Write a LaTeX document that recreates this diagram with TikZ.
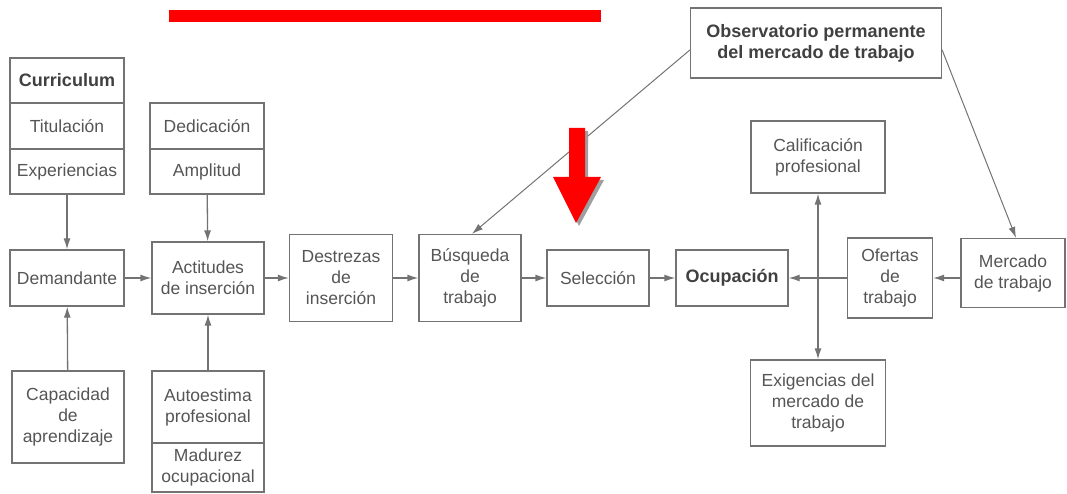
\documentclass[tikz,border=0pt]{standalone}
\usepackage{fontspec}
\setmainfont{Liberation Sans}
\usetikzlibrary{arrows.meta}
\definecolor{linea}{RGB}{115,115,115}
\definecolor{texto}{RGB}{85,85,85}
\definecolor{rojo}{RGB}{255,0,0}

\begin{document}
\begin{tikzpicture}[x=1pt,y=-1pt,
		caja/.style={draw=linea,line width=1.3pt,text=texto,align=center,inner sep=0pt,font=\fontsize{17.5}{21}\selectfont},
		negrita/.style={font=\fontsize{18}{21}\selectfont\bfseries,text=black!75},
		flecha/.style={draw=linea,line width=1.3pt,-{Latex[length=11pt,width=7pt]}},
		flechas/.style={draw=linea,line width=1.3pt,{Latex[length=11pt,width=7pt]}-{Latex[length=11pt,width=7pt]}}]
	\useasboundingbox (0,0) rectangle (1067,494);
	\fill [rojo] (169,10) rectangle (601,22);
	\node [caja,negrita,minimum width=114,minimum height=45] (cur) at (67,80.5) {Curriculum};
	\node [caja,minimum width=114,minimum height=46] (tit) at (67,126) {Titulación};
	\node [caja,minimum width=114,minimum height=45] (exp) at (67,171.5) {Experiencias};
	\node [caja,minimum width=114,minimum height=46] (ded) at (207,126) {Dedicación};
	\node [caja,minimum width=114,minimum height=45] (amp) at (207,171.5) {Amplitud};
	\node [caja,minimum width=114,minimum height=56] (dem) at (67,278) {Demandante};
	\node [caja,minimum width=112,minimum height=72] (act) at (208,278) {Actitudes\\de inserción};
	\node [caja,minimum width=103,minimum height=87] (des) at (341,278) {Destrezas\\de\\inserción};
	\node [caja,minimum width=102,minimum height=87] (bus) at (470,278) {Búsqueda\\de\\trabajo};
	\node [caja,minimum width=102,minimum height=56] (sel) at (598,278) {Selección};
	\node [caja,negrita,minimum width=112,minimum height=56] (ocu) at (732,278) {Ocupación};
	\node [caja,negrita,minimum width=251,minimum height=70] (obs) at (816,43) {Observatorio permanente\\del mercado de trabajo};
	\node [caja,minimum width=134,minimum height=72] (cal) at (818,157) {Calificación\\profesional};
	\node [caja,minimum width=135,minimum height=86] (exi) at (818,403) {Exigencias del\\mercado de\\trabajo};
	\node [caja,minimum width=85,minimum height=80] (ofe) at (890,278) {Ofertas\\de\\trabajo};
	\node [caja,minimum width=104,minimum height=69] (mer) at (1013,273) {Mercado\\de trabajo};
	\node [caja,minimum width=112,minimum height=92] (cap) at (68,417) {Capacidad\\de\\aprendizaje};
	\node [caja,minimum width=112,minimum height=72] (aut) at (208,407) {Autoestima\\profesional};
	\node [caja,minimum width=112,minimum height=49] (mad) at (208,467.5) {Madurez\\ocupacional};
	\draw [flecha] (exp) -- (dem);
	\draw [flecha] (amp) -- (act);
	\draw [flecha] (cap) -- (dem);
	\draw [flecha] (aut) -- (act);
	\draw [flecha] (dem) -- (act);
	\draw [flecha] (act) -- (des);
	\draw [flecha] (des) -- (bus);
	\draw [flecha] (bus) -- (sel);
	\draw [flecha] (sel) -- (ocu);
	\draw [flecha] (ofe) -- (ocu);
	\draw [flecha] (mer.west |- ofe) -- (ofe);
	\draw [flechas] (cal) -- (exi);
	\draw [flecha,line width=1pt] ([yshift=-7pt]obs.west) -- ([xshift=2pt]bus.north);
	\draw [flecha,line width=1pt] ([yshift=-7pt]obs.east) -- ([xshift=3pt]mer.north);
	\fill [gray!75] (572,131) -- (588,131) -- (588,180) -- (604,180) -- (579,226) -- (556,180) -- (572,180) -- cycle;
	\fill [rojo] (569,128) -- (585,128) -- (585,177) -- (601,177) -- (576,223) -- (553,177) -- (569,177) -- cycle;
\end{tikzpicture}
\end{document}
